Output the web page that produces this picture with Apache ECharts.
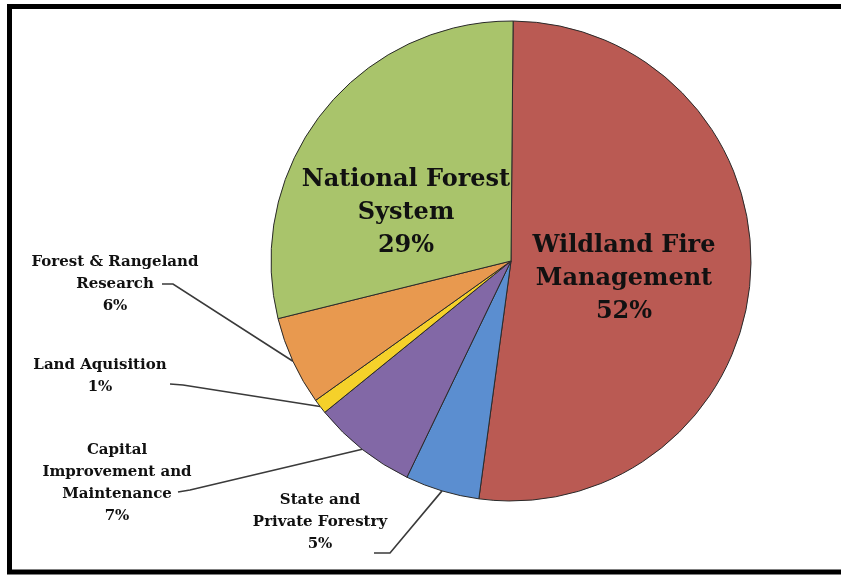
<!DOCTYPE html>
<html>
<head>
<meta charset="utf-8">
<style>
  html, body { margin: 0; padding: 0; background: #ffffff; }
  #chart { width: 841px; height: 575px; }
</style>
<script src="https://cdn.jsdelivr.net/npm/echarts@6/dist/echarts.min.js"></script>
</head>
<body>
<div id="chart"></div>
<script>
// Forest Service budget shares, clockwise from the top
const categories = [
  'Wildland Fire\nManagement',
  'State and\nPrivate Forestry',
  'Capital\nImprovement and\nMaintenance',
  'Land Aquisition',
  'Forest & Rangeland\nResearch',
  'National Forest\nSystem'
];
const shares = [52, 5, 7, 1, 6, 29];
const sliceColors = ['#BA5A53', '#5B8ED0', '#8268A6', '#F5D12A', '#E8994F', '#A9C46B'];

// Where each label block sits, and the bend of its leader line (inner = no leader)
const labelSpots = [
  { x: 624, y: 279, inner: true },
  { x: 320, y: 522, elbow: [390, 553], end: [374, 553] },
  { x: 117, y: 483, elbow: [190, 490], end: [178, 492] },
  { x: 100, y: 376, elbow: [183, 385], end: [170, 384] },
  { x: 115, y: 284, elbow: [173, 284], end: [162, 284] },
  { x: 406, y: 213, inner: true }
];

const serif = '"DejaVu Serif", "Liberation Serif", serif';

const data = categories.map((name, i) => {
  const inner = labelSpots[i].inner;
  return {
    name: name,
    value: shares[i],
    itemStyle: { color: sliceColors[i] },
    label: inner
      ? { fontSize: 24, lineHeight: 33 }
      : { fontSize: 15, lineHeight: 22 },
    labelLine: { show: !inner }
  };
});

const chart = echarts.init(document.getElementById('chart'), null, { renderer: 'canvas' });

chart.setOption({
  backgroundColor: '#ffffff',
  animation: false,
  graphic: [{
    type: 'rect',
    shape: { x: 9.5, y: 6.5, width: 900, height: 565.5 },
    style: { fill: 'none', stroke: '#000000', lineWidth: 5 },
    z: 100
  }],
  series: [{
    type: 'pie',
    center: [511, 261],
    radius: 240,
    startAngle: 89.5,
    clockwise: true,
    avoidLabelOverlap: false,
    itemStyle: { borderColor: '#2a2a2a', borderWidth: 1 },
    label: {
      show: true,
      position: 'outside',
      formatter: '{b}\n{c}%',
      fontFamily: serif,
      fontWeight: 'bold',
      color: '#111111',
      align: 'center'
    },
    labelLine: {
      show: true,
      lineStyle: { color: '#3a3a3a', width: 1.6 }
    },
    labelLayout: function (params) {
      const spot = labelSpots[params.dataIndex];
      const out = {
        x: spot.x,
        y: spot.y,
        align: 'center',
        verticalAlign: 'middle'
      };
      if (!spot.inner && params.labelLinePoints) {
        const edge = params.labelLinePoints[0];
        out.labelLinePoints = [edge, spot.elbow, spot.end];
      }
      return out;
    },
    data: data
  }]
});
</script>
</body>
</html>
